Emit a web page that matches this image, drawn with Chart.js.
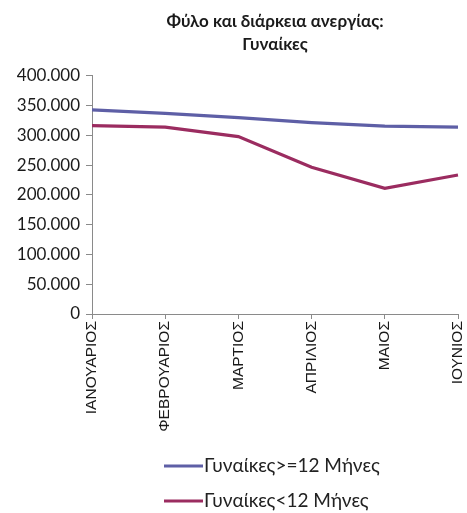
<!DOCTYPE html>
<html><head><meta charset="utf-8">
<script src="https://cdn.jsdelivr.net/npm/chart.js@4"></script>
<style>html,body{margin:0;padding:0;background:#fff}#wrap{width:467px;height:513px}</style>
</head><body><div id="wrap"><canvas id="c" width="467" height="513"></canvas></div>
<script>
const months = ['ΙΑΝΟΥΑΡΙΟΣ','ΦΕΒΡΟΥΑΡΙΟΣ','ΜΑΡΤΙΟΣ','ΑΠΡΙΛΙΟΣ','ΜΑΙΟΣ','ΙΟΥΝΙΟΣ'];
const longTerm = [343000, 337000, 330000, 321500, 315500, 314000];
const shortTerm = [316500, 314000, 298000, 246500, 211000, 233500];
const seriesNames = ['Γυναίκες>=12 Μήνες','Γυναίκες<12 Μήνες'];
const titleLines = ['Φύλο και διάρκεια ανεργίας:','Γυναίκες'];

const fmt = v => String(v).replace(/\B(?=(\d{3})+(?!\d))/g, '.');

const legendPlugin = {
  id: 'vlegend',
  afterDraw(chart) {
    const ctx = chart.ctx;
    ctx.save();
    ctx.font = '19px Lato';
    ctx.textBaseline = 'middle';
    ctx.textAlign = 'left';
    const ys = [466, 501];
    chart.data.datasets.forEach((ds, i) => {
      const y = ys[i];
      ctx.strokeStyle = ds.borderColor;
      ctx.lineWidth = 3;
      ctx.beginPath(); ctx.moveTo(164, y); ctx.lineTo(203, y); ctx.stroke();
      ctx.fillStyle = '#222';
      ctx.fillText(ds.label, 204, y);
    });
    ctx.restore();
  }
};

new Chart(document.getElementById('c'), {
  type: 'line',
  data: {
    labels: months,
    datasets: [
      {label: seriesNames[0], data: longTerm, borderColor: '#5e5fa6', borderWidth: 3.2, pointRadius: 0, tension: 0, fill: false},
      {label: seriesNames[1], data: shortTerm, borderColor: '#9b2c60', borderWidth: 3.2, pointRadius: 0, tension: 0, fill: false}
    ]
  },
  options: {
    responsive: false,
    animation: false,
    devicePixelRatio: 1,
    layout: {padding: {top: 0, right: 0, bottom: 0, left: 0}},
    plugins: {
      legend: {display: false},
      tooltip: {enabled: false},
      title: {display: true, text: titleLines, fullSize: false, color: '#1a1a1a',
        font: {family: 'Lato', size: 17, weight: 'bold', lineHeight: 1.35}, padding: {top: 10, bottom: 20}}
    },
    scales: {
      x: {
        offset: false,
        border: {color: '#8a8a8a', width: 1},
        grid: {display: true, drawOnChartArea: false, drawTicks: true, tickLength: 5, color: '#8a8a8a'},
        ticks: {minRotation: 90, maxRotation: 90, autoSkip: false, color: '#1a1a1a',
          font: {family: 'Liberation Sans', size: 15.5}, padding: 2},
        afterFit(s) { s.height = 199; s.paddingRight = 9; s.paddingLeft = 0; }
      },
      y: {
        min: 0, max: 400000,
        border: {color: '#8a8a8a', width: 1},
        grid: {display: true, drawOnChartArea: false, drawTicks: true, tickLength: 6, color: '#8a8a8a'},
        ticks: {stepSize: 50000, color: '#1a1a1a', font: {family: 'Lato', size: 17}, padding: 6,
          callback: v => fmt(v)},
        afterFit(s) { s.width = 92; }
      }
    }
  },
  plugins: [legendPlugin]
});
</script></body></html>
